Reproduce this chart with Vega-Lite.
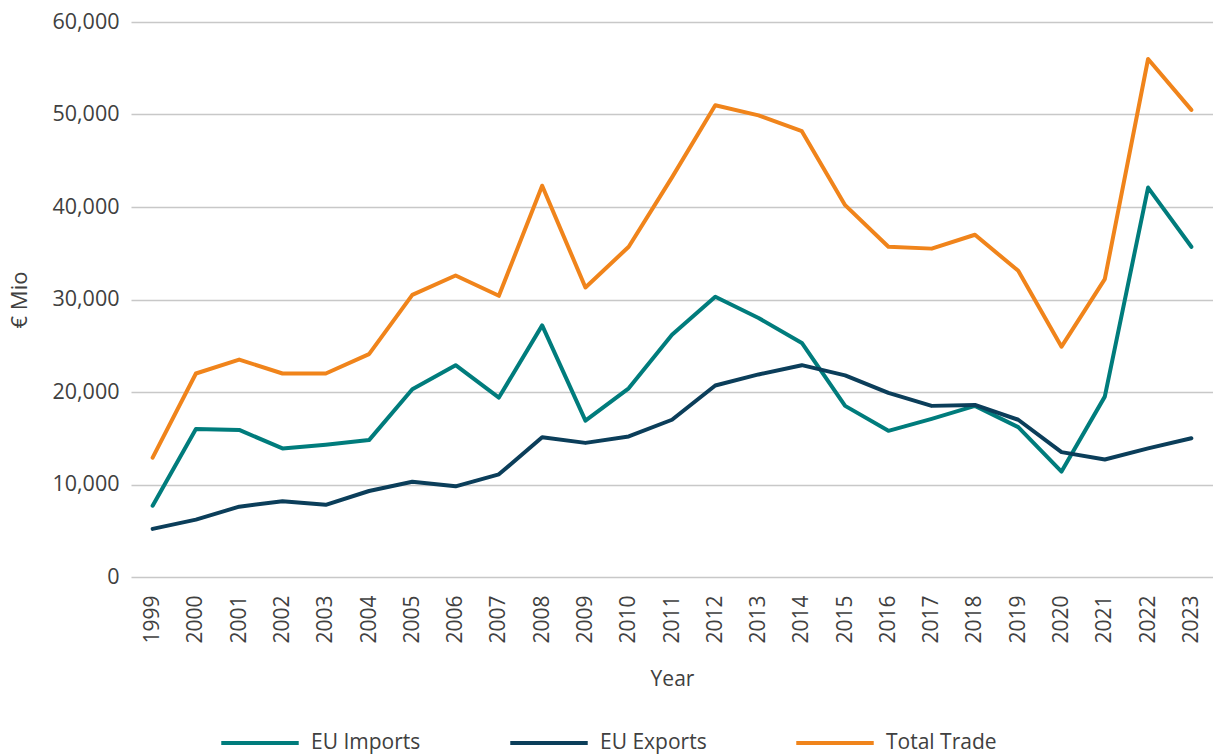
{
  "$schema": "https://vega.github.io/schema/vega-lite/v6.json",
  "width": 1082,
  "height": 555,
  "autosize": {"type": "none"},
  "padding": {"left": 131, "top": 22, "right": 0, "bottom": 178},
  "background": "white",
  "config": {
    "font": "Open Sans",
    "view": {"stroke": null},
    "axis": {"labelColor": "#404040", "titleColor": "#404040", "labelFont": "Open Sans", "titleFont": "Open Sans", "titleFontWeight": "normal"},
    "legend": {"labelColor": "#404040", "labelFont": "Open Sans"}
  },
  "data": {"values": [
    {"Year": "1999", "Series": "EU Imports", "Value": 7700},
    {"Year": "2000", "Series": "EU Imports", "Value": 16000},
    {"Year": "2001", "Series": "EU Imports", "Value": 15900},
    {"Year": "2002", "Series": "EU Imports", "Value": 13900},
    {"Year": "2003", "Series": "EU Imports", "Value": 14300},
    {"Year": "2004", "Series": "EU Imports", "Value": 14800},
    {"Year": "2005", "Series": "EU Imports", "Value": 20300},
    {"Year": "2006", "Series": "EU Imports", "Value": 22900},
    {"Year": "2007", "Series": "EU Imports", "Value": 19400},
    {"Year": "2008", "Series": "EU Imports", "Value": 27200},
    {"Year": "2009", "Series": "EU Imports", "Value": 16900},
    {"Year": "2010", "Series": "EU Imports", "Value": 20400},
    {"Year": "2011", "Series": "EU Imports", "Value": 26200},
    {"Year": "2012", "Series": "EU Imports", "Value": 30300},
    {"Year": "2013", "Series": "EU Imports", "Value": 28000},
    {"Year": "2014", "Series": "EU Imports", "Value": 25300},
    {"Year": "2015", "Series": "EU Imports", "Value": 18500},
    {"Year": "2016", "Series": "EU Imports", "Value": 15800},
    {"Year": "2017", "Series": "EU Imports", "Value": 17100},
    {"Year": "2018", "Series": "EU Imports", "Value": 18500},
    {"Year": "2019", "Series": "EU Imports", "Value": 16200},
    {"Year": "2020", "Series": "EU Imports", "Value": 11400},
    {"Year": "2021", "Series": "EU Imports", "Value": 19500},
    {"Year": "2022", "Series": "EU Imports", "Value": 42100},
    {"Year": "2023", "Series": "EU Imports", "Value": 35700},
    {"Year": "1999", "Series": "EU Exports", "Value": 5200},
    {"Year": "2000", "Series": "EU Exports", "Value": 6200},
    {"Year": "2001", "Series": "EU Exports", "Value": 7600},
    {"Year": "2002", "Series": "EU Exports", "Value": 8200},
    {"Year": "2003", "Series": "EU Exports", "Value": 7800},
    {"Year": "2004", "Series": "EU Exports", "Value": 9300},
    {"Year": "2005", "Series": "EU Exports", "Value": 10300},
    {"Year": "2006", "Series": "EU Exports", "Value": 9800},
    {"Year": "2007", "Series": "EU Exports", "Value": 11100},
    {"Year": "2008", "Series": "EU Exports", "Value": 15100},
    {"Year": "2009", "Series": "EU Exports", "Value": 14500},
    {"Year": "2010", "Series": "EU Exports", "Value": 15200},
    {"Year": "2011", "Series": "EU Exports", "Value": 17000},
    {"Year": "2012", "Series": "EU Exports", "Value": 20700},
    {"Year": "2013", "Series": "EU Exports", "Value": 21900},
    {"Year": "2014", "Series": "EU Exports", "Value": 22900},
    {"Year": "2015", "Series": "EU Exports", "Value": 21800},
    {"Year": "2016", "Series": "EU Exports", "Value": 19900},
    {"Year": "2017", "Series": "EU Exports", "Value": 18500},
    {"Year": "2018", "Series": "EU Exports", "Value": 18600},
    {"Year": "2019", "Series": "EU Exports", "Value": 17000},
    {"Year": "2020", "Series": "EU Exports", "Value": 13500},
    {"Year": "2021", "Series": "EU Exports", "Value": 12700},
    {"Year": "2022", "Series": "EU Exports", "Value": 13900},
    {"Year": "2023", "Series": "EU Exports", "Value": 15000},
    {"Year": "1999", "Series": "Total Trade", "Value": 12900},
    {"Year": "2000", "Series": "Total Trade", "Value": 22000},
    {"Year": "2001", "Series": "Total Trade", "Value": 23500},
    {"Year": "2002", "Series": "Total Trade", "Value": 22000},
    {"Year": "2003", "Series": "Total Trade", "Value": 22000},
    {"Year": "2004", "Series": "Total Trade", "Value": 24100},
    {"Year": "2005", "Series": "Total Trade", "Value": 30500},
    {"Year": "2006", "Series": "Total Trade", "Value": 32600},
    {"Year": "2007", "Series": "Total Trade", "Value": 30400},
    {"Year": "2008", "Series": "Total Trade", "Value": 42300},
    {"Year": "2009", "Series": "Total Trade", "Value": 31300},
    {"Year": "2010", "Series": "Total Trade", "Value": 35700},
    {"Year": "2011", "Series": "Total Trade", "Value": 43200},
    {"Year": "2012", "Series": "Total Trade", "Value": 51000},
    {"Year": "2013", "Series": "Total Trade", "Value": 49900},
    {"Year": "2014", "Series": "Total Trade", "Value": 48200},
    {"Year": "2015", "Series": "Total Trade", "Value": 40200},
    {"Year": "2016", "Series": "Total Trade", "Value": 35700},
    {"Year": "2017", "Series": "Total Trade", "Value": 35500},
    {"Year": "2018", "Series": "Total Trade", "Value": 37000},
    {"Year": "2019", "Series": "Total Trade", "Value": 33100},
    {"Year": "2020", "Series": "Total Trade", "Value": 24900},
    {"Year": "2021", "Series": "Total Trade", "Value": 32200},
    {"Year": "2022", "Series": "Total Trade", "Value": 56000},
    {"Year": "2023", "Series": "Total Trade", "Value": 50500}
  ]},
  "mark": {"type": "line", "strokeWidth": 4, "strokeCap": "round", "strokeJoin": "round"},
  "encoding": {
    "x": {
      "field": "Year", "type": "ordinal",
      "scale": {"type": "point", "padding": 0.5},
      "axis": {"title": "Year", "labelAngle": 270, "labelAlign": "right", "labelBaseline": "middle", "labelFontSize": 21, "titleFontSize": 21, "labelPadding": 18, "titlePadding": 25, "ticks": false, "domain": false}
    },
    "y": {
      "field": "Value", "type": "quantitative",
      "scale": {"domain": [0, 60000], "nice": false},
      "axis": {"title": "€ Mio", "values": [0, 10000, 20000, 30000, 40000, 50000, 60000], "format": ",d", "labelFontSize": 21.5, "titleFontSize": 22, "labelPadding": 12, "titlePadding": 20, "ticks": false, "domain": false, "gridColor": "#c8c8c8", "gridWidth": 1.5}
    },
    "color": {
      "field": "Series", "type": "nominal",
      "scale": {"domain": ["EU Imports", "EU Exports", "Total Trade"], "range": ["#007C7C", "#0B3E5A", "#F0841B"]},
      "legend": {"title": null, "orient": "none", "direction": "horizontal", "legendX": 88, "legendY": 680, "symbolType": "stroke", "symbolSize": 6000, "symbolStrokeWidth": 4, "labelFontSize": 21, "labelOffset": 10, "columnPadding": 81}
    }
  }
}
